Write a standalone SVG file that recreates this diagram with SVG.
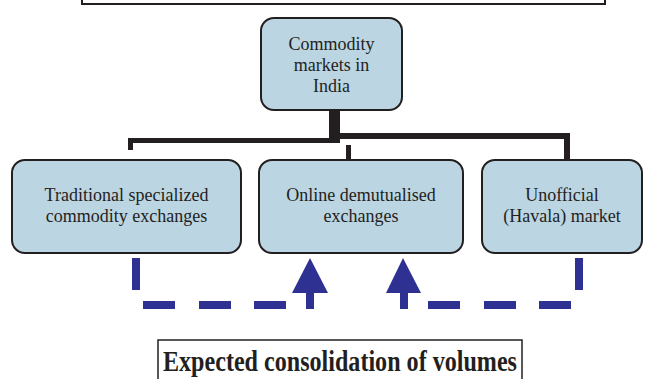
<svg xmlns="http://www.w3.org/2000/svg" width="647" height="379" viewBox="0 0 647 379">
<style>
.node{fill:#bcd5e3;stroke:#231f20;stroke-width:2}
.t{font-family:"Liberation Serif","Times New Roman",serif;font-size:18px;fill:#231f20;text-anchor:middle}
.tree{fill:#231f20}
.dash{fill:#2e3192}
</style>
<rect x="82" y="-10" width="523" height="14" fill="#fff" stroke="#231f20" stroke-width="2"/>
<g id="connectors">
<rect class="tree" x="329" y="110" width="11" height="33"/>
<rect class="tree" x="128" y="138" width="212" height="5"/>
<rect class="tree" x="128" y="138" width="5" height="12"/>
<rect class="tree" x="335" y="133" width="235" height="6"/>
<rect class="tree" x="564" y="133" width="6" height="27"/>
<rect class="tree" x="346" y="145" width="5" height="15"/>
<rect class="dash" x="132" y="258" width="8" height="32"/>
<rect class="dash" x="143" y="301" width="32" height="8"/>
<rect class="dash" x="199" y="301" width="32" height="8"/>
<rect class="dash" x="254" y="301" width="32" height="8"/>
<rect class="dash" x="306" y="290" width="8" height="19"/>
<polygon class="dash" points="310,258 328,293 292,293"/>
<rect class="dash" x="400" y="290" width="8" height="19"/>
<polygon class="dash" points="403,258 421,293 386,293"/>
<rect class="dash" x="428" y="301" width="32" height="8"/>
<rect class="dash" x="484" y="301" width="32" height="8"/>
<rect class="dash" x="539" y="301" width="32" height="8"/>
<rect class="dash" x="575" y="258" width="8" height="32"/>
</g>
<g id="commodity-markets">
<rect class="node" x="261" y="18" width="141" height="92" rx="13"/>
<text class="t" x="331.5" y="50">Commodity</text>
<text class="t" x="331.5" y="71">markets in</text>
<text class="t" x="331.5" y="92">India</text>
</g>
<g id="traditional">
<rect class="node" x="12" y="160" width="229" height="93" rx="13"/>
<text class="t" x="126.5" y="201">Traditional specialized</text>
<text class="t" x="126.5" y="222">commodity exchanges</text>
</g>
<g id="online">
<rect class="node" x="259" y="160" width="204" height="93" rx="13"/>
<text class="t" x="361" y="201">Online demutualised</text>
<text class="t" x="361" y="222">exchanges</text>
</g>
<g id="unofficial">
<rect class="node" x="482" y="160" width="160" height="93" rx="13"/>
<text class="t" x="562" y="201">Unofficial</text>
<text class="t" x="562" y="222">(Havala) market</text>
</g>
<g id="expected">
<rect x="158" y="340" width="364" height="50" fill="#fff" stroke="#231f20" stroke-width="1.5"/>
<text x="340" y="371" font-family="'Liberation Serif','Times New Roman',serif" font-size="30" font-weight="bold" fill="#231f20" text-anchor="middle" textLength="354" lengthAdjust="spacingAndGlyphs">Expected consolidation of volumes</text>
</g>
</svg>
